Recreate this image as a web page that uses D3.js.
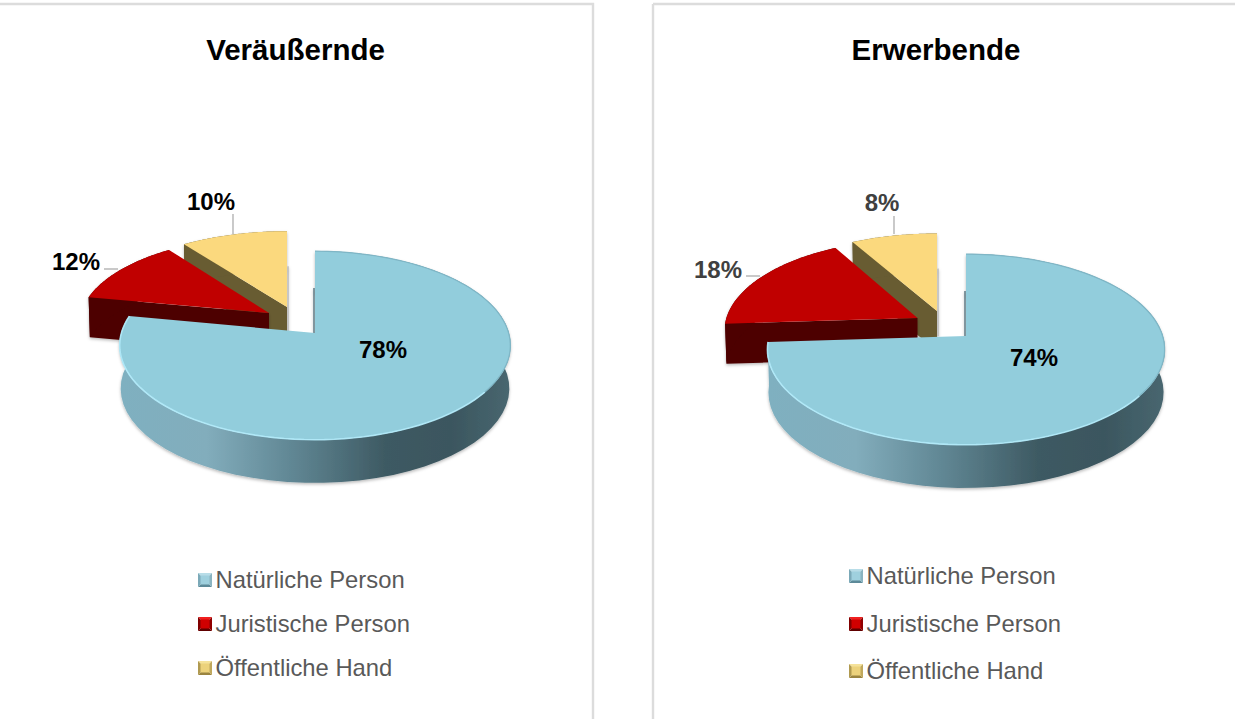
<!DOCTYPE html>
<html><head><meta charset="utf-8">
<script src="https://cdn.jsdelivr.net/npm/d3@7"></script>
<style>html,body{margin:0;padding:0;background:#fff;overflow:hidden}svg{display:block}text{font-family:"Liberation Sans",Arial,sans-serif}</style>
</head><body><svg id="c" width="1235" height="719"></svg>
<script>
const categories = ["Natürliche Person", "Juristische Person", "Öffentliche Hand"];
const titles = ["Veräußernde", "Erwerbende"];
const veraeusserndeValues = [78, 12, 10];
const erwerbendeValues = [74, 18, 8];

const topColors = ["#92cddc", "#c00000", "#fbd97e"];
const sideColors = ["#5b8592", "#4d0000", "#675b32"];
// legend key bevels: top, bottom, left, right, centre
const keyColors = [
  ["#b8dde8","#5d8a99","#7ba9b8","#8ab4c1","#9fd0de"],
  ["#f02020","#600000","#800000","#900000","#d00000"],
  ["#f5e29a","#9a8440","#b09a50","#c0a85c","#ecd27c"]];

const layouts = [
  {values: veraeusserndeValues, frame:{x:-2,y:4,w:595}, titleX:295.5, titleY:60,
   cx:315, cy:333, rx:194, ry:92.8, k:0.132, depth:43,
   // offset x, offset y, radius x, radius y, depth
   offsets:[[0,0,1,1,43],[-46,-20,0.97,0.93,40],[-28,-26,1,0.925,40]],
   valueLabels:[[383,358,"#000"],[76,270,"#000"],[211,210,"#000"]],
   leaders:[null,[104,269,118,269],[233,214,233,234]],
   legendX:198, legendRows:[580,624,668]},
  {values: erwerbendeValues, frame:{x:653,y:4,w:600}, titleX:936, titleY:60,
   cx:966, cy:336, rx:197, ry:93.6, k:0.141, depth:43,
   offsets:[[0,0,1,1,43],[-48.5,-18,0.97,0.96,40],[-29,-25,1,0.945,40]],
   valueLabels:[[1034,366,"#000"],[718,278,"#404040"],[882,211,"#404040"]],
   leaders:[null,[746,276,760,276],[894,216,894,234]],
   legendX:849, legendRows:[576,624,671]}
];

const svg = d3.select("#c");
const defs = svg.append("defs");
const shadow = defs.append("filter").attr("id","soft").attr("x","-10%").attr("y","-10%").attr("width","120%").attr("height","125%");
shadow.append("feDropShadow").attr("dx",0).attr("dy",1.5).attr("stdDeviation",1.5).attr("flood-color","#000").attr("flood-opacity",0.28);

const line = d3.line();
const TAU = Math.PI * 2;

layouts.forEach((L, li) => {
  const g = svg.append("g");
  const f = L.frame;
  g.append("path").attr("d", `M${f.x},${f.y}H${f.x+f.w}V${730}M${f.x},${f.y}V730`)
    .attr("fill","none").attr("stroke","#dcdcdc").attr("stroke-width",2.4);
  g.append("text").attr("x",L.titleX).attr("y",L.titleY).attr("text-anchor","middle")
    .attr("font-size",29.5).attr("font-weight","bold").attr("fill","#000").text(titles[li]);

  const arcs = d3.pie().sort(null).startAngle(0).endAngle(TAU)(L.values);
  const gradId = "wall"+li;
  const grad = defs.append("linearGradient").attr("id",gradId).attr("gradientUnits","userSpaceOnUse")
    .attr("x1",L.cx-L.rx).attr("x2",L.cx+L.rx).attr("y1",0).attr("y2",0);
  [[0,"#7fb0c0"],[0.22,"#82adbc"],[0.45,"#5f8592"],[0.68,"#3e5a63"],[0.85,"#3b565f"],[1,"#48666f"]]
    .forEach(s => grad.append("stop").attr("offset",s[0]).attr("stop-color",s[1]));

  const proj = (t, o, z, rr) => {
    const q = rr === undefined ? 1 : rr;
    const w = 1 + L.k * q * Math.cos(t);
    const sc = z ? 0.993 : 1;
    return [L.cx + o[0] + sc * L.rx * q * o[2] * Math.sin(t) / w,
            L.cy + o[1] - L.ry * q * o[3] * Math.cos(t) / w + (z ? o[4] : 0)];
  };
  const arcPts = (a0, a1, o, z) => d3.range(0, 61).map(i => proj(a0 + (a1 - a0) * i / 60, o, z));

  // painter's order: back slices first
  d3.range(arcs.length - 1, -1, -1).forEach(i => {
    const a = arcs[i], o = L.offsets[i];
    const s = a.startAngle, e = a.endAngle;
    const sl = g.append("g").attr("filter","url(#soft)");
    const side = i === 0 ? `url(#${gradId})` : sideColors[i];
    if (i !== 0) {
      const face = [proj(0,o,false,0), proj(s,o,false), proj(s,o,true), proj(0,o,true,0)];
      sl.append("path").attr("d", line(face)+"Z").attr("fill", sideColors[i]);
    }
    const wall = arcPts(s,e,o,false).concat(arcPts(s,e,o,true).reverse());
    sl.append("path").attr("d", line(wall)+"Z").attr("fill", side);
    if (i === 0) {
      const p = proj(s,o,false);
      sl.append("line").attr("x1",p[0]-1).attr("x2",p[0]-1).attr("y1",p[1]+L.depth-6).attr("y2",L.cy)
        .attr("stroke","#54707c").attr("stroke-width",1.4);
    } else if (i === arcs.length-1) {
      const p = proj(e,o,false);
      sl.append("line").attr("x1",p[0]+1).attr("x2",p[0]+1).attr("y1",p[1]+L.depth-8).attr("y2",L.cy)
        .attr("stroke","#b5b5b5").attr("stroke-width",1.4);
    }
    const top = [proj(0,o,false,0)].concat(arcPts(s,e,o,false));
    g.append("path").attr("d", line(top)+"Z").attr("fill", topColors[i]);
    if (i === 0) {
      const inner = o.slice(); inner[2] = 0.998; inner[3] = 0.998;
      g.append("path").attr("d", line(arcPts(Math.PI*0.7,e,inner,false)))
        .attr("fill","none").attr("stroke","#b4ecfb").attr("stroke-width",1.6).attr("opacity",0.85);
      g.append("path").attr("d", line(arcPts(s,Math.PI*0.7,inner,false)))
        .attr("fill","none").attr("stroke","#7fb6c6").attr("stroke-width",1.2);
    }
  });

  L.leaders.forEach(l => { if (l) g.append("line").attr("x1",l[0]).attr("y1",l[1]).attr("x2",l[2]).attr("y2",l[3])
    .attr("stroke","#a6a6a6").attr("stroke-width",1.2); });

  arcs.forEach((a, i) => {
    const v = L.valueLabels[i];
    g.append("text").attr("x",v[0]).attr("y",v[1]).attr("text-anchor","middle")
      .attr("font-size",24).attr("font-weight","bold").attr("fill",v[2]).text(a.data + "%");
  });

  categories.forEach((c, i) => {
    const x = L.legendX, y = L.legendRows[i], h = 7, kc = keyColors[i];
    const tri = (pts, col) => g.append("path").attr("d", line(pts)+"Z").attr("fill", col);
    const l = x, rr = x + 14, t = y - h, b = y + h, m = [x+7, y];
    tri([[l,t],[rr,t],m], kc[0]);
    tri([[l,b],[rr,b],m], kc[1]);
    tri([[l,t],[l,b],m], kc[2]);
    tri([[rr,t],[rr,b],m], kc[3]);
    g.append("rect").attr("x",l+2.5).attr("y",t+2.5).attr("width",9).attr("height",9).attr("fill",kc[4]);
    g.append("text").attr("x",x+17.5).attr("y",y+8).attr("font-size",23.8).attr("fill","#595959").text(c);
  });
});
</script></body></html>
